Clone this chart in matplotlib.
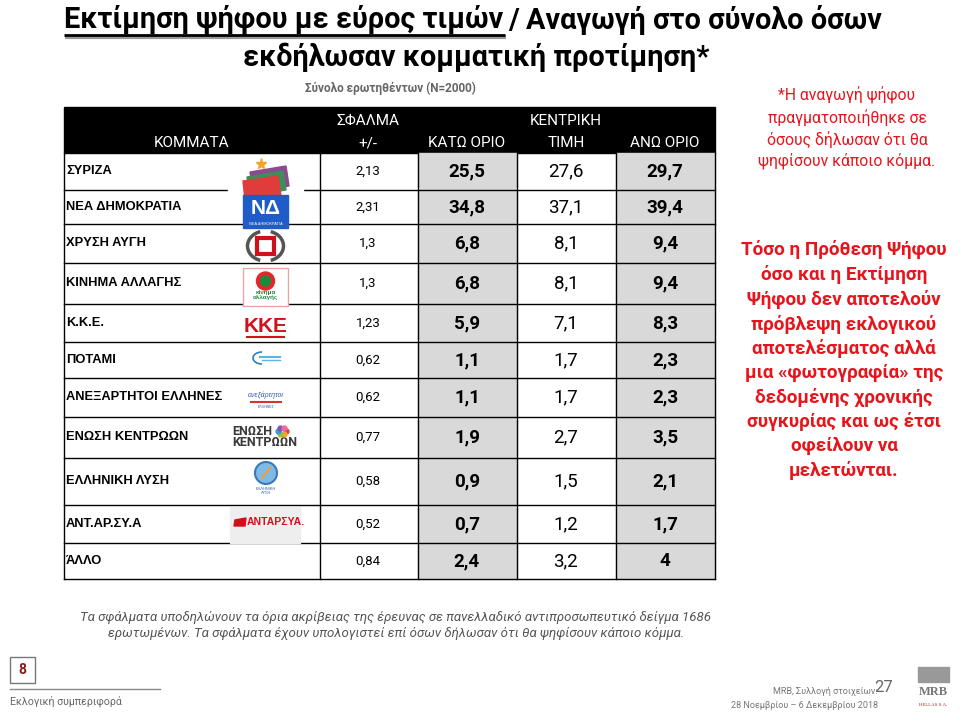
import numpy as np
import matplotlib
matplotlib.use("Agg")
import matplotlib.pyplot as plt
from matplotlib.patches import Rectangle, Polygon, Circle, Arc

# Table data
parties = ["ΣΥΡΙΖΑ", "ΝΕΑ ΔΗΜΟΚΡΑΤΙΑ", "ΧΡΥΣΗ ΑΥΓΗ", "ΚΙΝΗΜΑ ΑΛΛΑΓΗΣ", "Κ.Κ.Ε.",
           "ΠΟΤΑΜΙ", "ΑΝΕΞΑΡΤΗΤΟΙ ΕΛΛΗΝΕΣ", "ΕΝΩΣΗ ΚΕΝΤΡΩΩΝ", "ΕΛΛΗΝΙΚΗ ΛΥΣΗ",
           "ΑΝΤ.ΑΡ.ΣΥ.Α", "ΆΛΛΟ"]
errors = [2.13, 2.31, 1.3, 1.3, 1.23, 0.62, 0.62, 0.77, 0.58, 0.52, 0.84]
lower = [25.5, 34.8, 6.8, 6.8, 5.9, 1.1, 1.1, 1.9, 0.9, 0.7, 2.4]
central = [27.6, 37.1, 8.1, 8.1, 7.1, 1.7, 1.7, 2.7, 1.5, 1.2, 3.2]
upper = [29.7, 39.4, 9.4, 9.4, 8.3, 2.3, 2.3, 3.5, 2.1, 1.7, 4]

# layout (pixels)
col_edges = [64, 320, 418, 517, 616, 715]
row_edges = [153, 190, 224, 263, 304, 342, 378, 417, 458, 505, 543, 579]
head_top = 107

CAL = "Roboto"
ARL = "Liberation Sans"
RED = "#e8141b"

def num(v):
    return f"{v:g}".replace(".", ",")

fig = plt.figure(figsize=(9.6, 7.2), dpi=100)
ax = fig.add_axes([0, 0, 1, 1])
ax.set_xlim(0, 960)
ax.set_ylim(720, 0)
ax.axis("off")

# ---- title ----
TSZ = 20.8
t1 = ax.text(0, 20, "Εκτίμηση ψήφου με εύρος τιμών", fontsize=TSZ, fontweight="bold",
             family=CAL, ha="left", va="center", color="black")
t2 = ax.text(0, 20, "/ Αναγωγή στο σύνολο όσων", fontsize=TSZ, fontweight="bold",
             family=CAL, ha="left", va="center", color="black")
fig.canvas.draw()
w1 = t1.get_window_extent().width
w2 = t2.get_window_extent().width
x0 = 473 - (w1 + 4 + w2) / 2
t1.set_x(x0)
t2.set_x(x0 + w1 + 4)
ax.plot([x0 + 1, x0 + w1 + 2], [37, 37], color="#999999", lw=3, solid_capstyle="butt")
ax.plot([x0, x0 + w1 + 1], [35, 35], color="black", lw=2, solid_capstyle="butt")
ax.text(476, 57, "εκδήλωσαν κομματική προτίμηση*", fontsize=TSZ, fontweight="bold",
        family=CAL, ha="center", va="center", color="black")
ax.text(390, 88, "Σύνολο ερωτηθέντων (N=2000)", fontsize=8.5, fontweight="bold",
        family=CAL, ha="center", va="center", color="#666666")

# ---- table header ----
ax.add_patch(Rectangle((col_edges[0], head_top), col_edges[-1] - col_edges[0],
                       row_edges[0] - head_top, color="black", zorder=1))
hy1, hy2 = 121, 143
hkw = dict(fontsize=11, family=CAL, color="white", ha="center", va="center", zorder=3)
ax.text(192, hy2, "ΚΟΜΜΑΤΑ", **hkw)
ax.text(368, hy1, "ΣΦΑΛΜΑ", **hkw)
ax.text(368, hy2, "+/-", **hkw)
ax.text(467, hy2, "ΚΑΤΩ ΟΡΙΟ", **hkw)
ax.text(566, hy1, "ΚΕΝΤΡΙΚΗ", **hkw)
ax.text(566, hy2, "ΤΙΜΗ", **hkw)
ax.text(665, hy2, "ΑΝΩ ΟΡΙΟ", **hkw)

# ---- shaded columns ----
for c in (2, 4):
    ax.add_patch(Rectangle((col_edges[c], row_edges[0]), col_edges[c + 1] - col_edges[c],
                           row_edges[-1] - row_edges[0], color="#d9d9d9", zorder=1))

# grid
for y in row_edges[1:]:
    ax.plot([col_edges[0], col_edges[-1]], [y, y], color="black", lw=1, zorder=2)
for x in col_edges:
    ax.plot([x, x], [row_edges[0], row_edges[-1]], color="black", lw=1, zorder=2)

# ---- rows ----
for i, p in enumerate(parties):
    yc = (row_edges[i] + row_edges[i + 1]) / 2
    ax.text(66, yc, p, fontsize=9.3, fontweight="bold", family=ARL, ha="left", va="center", zorder=4)
    ax.text(368, yc, num(errors[i]), fontsize=9.5, family=CAL, ha="center", va="center", zorder=4)
    ax.text(467, yc, num(lower[i]), fontsize=13.5, fontweight="bold", family=CAL, ha="center", va="center", zorder=4)
    ax.text(566, yc, num(central[i]), fontsize=13.5, family=CAL, ha="center", va="center", zorder=4)
    ax.text(665, yc, num(upper[i]), fontsize=13.5, fontweight="bold", family=CAL, ha="center", va="center", zorder=4)

# ---- simplified party logos ----
Z = 5
# SYRIZA
ax.add_patch(Rectangle((228, 160), 75, 38, color="white", zorder=Z))
ax.add_patch(Polygon([[250, 172], [286, 166], [289, 186], [253, 192]], color="#8e4a8c", zorder=Z))
ax.add_patch(Polygon([[247, 177], [283, 171], [286, 190], [250, 196]], color="#3a8f5a", zorder=Z))
ax.add_patch(Polygon([[243, 181], [278, 176], [281, 196], [245, 200]], color="#e03c3c", zorder=Z))
ax.plot(261, 164, marker="*", color="#f5a623", ms=8, zorder=Z + 1)
# ND
ax.add_patch(Rectangle((243, 195), 45, 33, color="#1f5cc8", zorder=Z))
ax.text(265.5, 208, "ΝΔ", fontsize=15, fontweight="bold", family=ARL, color="white",
        ha="center", va="center", zorder=Z + 1)
ax.text(265.5, 224, "ΝΕΑ ΔΗΜΟΚΡΑΤΙΑ", fontsize=2.8, family=ARL, color="white",
        ha="center", va="center", zorder=Z + 1)
# Golden Dawn
ax.add_patch(Rectangle((243, 231), 45, 30, color="white", zorder=Z))
ax.add_patch(Arc((265.5, 246), 36, 30, theta1=110, theta2=250, color="#555555", lw=2.5, zorder=Z + 1))
ax.add_patch(Arc((265.5, 246), 36, 30, theta1=-70, theta2=70, color="#555555", lw=2.5, zorder=Z + 1))
ax.add_patch(Rectangle((257, 238), 17, 16, fill=False, ec="#d0111b", lw=3, zorder=Z + 1))
# KINAL
ax.add_patch(Rectangle((243, 268), 45, 38, fc="white", ec="#e9a5a5", lw=1, zorder=Z))
ax.add_patch(Circle((265.5, 281), 9, color="#e3262b", zorder=Z + 1))
ax.add_patch(Circle((265.5, 281), 5, color="#1c8a3c", zorder=Z + 2))
ax.text(265.5, 295, "κίνημα\nαλλαγής", fontsize=4.5, fontweight="bold", family=ARL,
        color="#1c8a3c", ha="center", va="center", linespacing=0.9, zorder=Z + 1)
# KKE
ax.add_patch(Rectangle((243, 308), 45, 32, color="white", zorder=Z))
ax.text(265.5, 326, "ΚΚΕ", fontsize=15, fontweight="bold", family=ARL, color="#d0111b",
        ha="center", va="center", zorder=Z + 1)
ax.plot([247, 284], [337, 337], color="#d0111b", lw=1.5, zorder=Z + 1)
# Potami
ax.add_patch(Arc((262, 358), 18, 12, theta1=90, theta2=270, color="#2c7fc1", lw=1.2, zorder=Z))
ax.plot([260, 280], [357, 357], color="#56b7e6", lw=1.5, zorder=Z)
ax.plot([262, 280], [360, 360], color="#56b7e6", lw=1, zorder=Z)
# ANEL
ax.text(266, 395, "ανεξάρτητοι", fontsize=5, style="italic", family=ARL, color="#2f5aa8",
        ha="center", va="center", zorder=Z)
ax.plot([251, 281], [402, 402], color="#d9342b", lw=1.5, zorder=Z)
ax.text(266, 407, "ΕΛΛΗΝΕΣ", fontsize=2.5, family=ARL, color="#2f5aa8",
        ha="center", va="center", zorder=Z)
# Enosi Kentroon
ax.text(232, 437, "ΕΝΩΣΗ\nΚΕΝΤΡΩΩΝ", fontsize=9, fontweight="bold", family=CAL,
        color="#3a3a3a", ha="left", va="center", linespacing=0.85, zorder=Z)
for ang, col in zip(range(0, 360, 60), ["#e53b3b", "#f3a52e", "#9cc43a", "#3c9ad6", "#8a4fb0", "#e86aa8"]):
    ax.plot(282 + 4 * np.cos(np.radians(ang)), 431 + 4 * np.sin(np.radians(ang)),
            marker="o", ms=3.5, color=col, zorder=Z)
# Elliniki Lysi
ax.add_patch(Circle((266, 473), 11, fc="#7fb9e6", ec="#3b78b8", lw=1.5, zorder=Z))
ax.plot([262, 270], [478, 468], color="#f0a030", lw=1.5, zorder=Z + 1)
ax.text(266, 491, "ΕΛΛΗΝΙΚΗ\nΛΥΣΗ", fontsize=2.8, family=ARL, color="#2f5aa8",
        ha="center", va="center", zorder=Z)
# ANTARSYA
ax.add_patch(Rectangle((230, 507), 70, 36, color="#eeeeee", zorder=Z))
ax.add_patch(Polygon([[235, 520], [246, 518], [245, 526], [234, 526]], color="#d0111b", zorder=Z + 1))
ax.text(247, 522, "ΑΝΤΑΡΣΥΑ.", fontsize=7.5, fontweight="bold", family=ARL, color="#d0111b",
        ha="left", va="center", zorder=Z + 1)

# ---- right hand notes ----
ax.text(847, 128, "*Η αναγωγή ψήφου\nπραγματοποιήθηκε σε\nόσους δήλωσαν ότι θα\nψηφίσουν κάποιο κόμμα.",
        fontsize=11.3, family=CAL, color=RED, ha="center", va="center", linespacing=1.35)
ax.text(844, 360,
        "Τόσο η Πρόθεση Ψήφου\nόσο και η Εκτίμηση\nΨήφου δεν αποτελούν\nπρόβλεψη εκλογικού\n"
        "αποτελέσματος αλλά\nμια «φωτογραφία» της\nδεδομένης χρονικής\nσυγκυρίας και ως έτσι\n"
        "οφείλουν να\nμελετώνται.",
        fontsize=13.6, fontweight="bold", family=CAL, color=RED, ha="center", va="center",
        linespacing=1.38)

# ---- footnote ----
ax.text(396, 626, "Τα σφάλματα υποδηλώνουν τα όρια ακρίβειας της έρευνας σε πανελλαδικό αντιπροσωπευτικό δείγμα 1686\n"
        "ερωτωμένων. Τα σφάλματα έχουν υπολογιστεί επί όσων δήλωσαν ότι θα ψηφίσουν κάποιο κόμμα.",
        fontsize=9.5, style="italic", family=CAL, color="#555555", ha="center", va="center",
        linespacing=1.3)

# ---- footer ----
ax.add_patch(Rectangle((10, 657), 25, 26, fill=False, ec="#777777", lw=1))
ax.text(22.5, 670, "8", fontsize=10, fontweight="bold", family=CAL, color="#8b1a1a",
        ha="center", va="center")
ax.plot([10, 160], [689, 689], color="#888888", lw=1)
ax.text(10, 701, "Εκλογική συμπεριφορά", fontsize=7.7, family=CAL, color="#666666",
        ha="left", va="center")
ax.text(893, 688, "27", fontsize=12, family=CAL, color="#666666", ha="right", va="center")
ax.text(877, 691, "MRB, Συλλογή στοιχείων:", fontsize=6.5, family=CAL, color="#777777",
        ha="right", va="center")
ax.text(878, 705, "28 Νοεμβρίου – 6 Δεκεμβρίου 2018", fontsize=6.5, family=CAL, color="#777777",
        ha="right", va="center")
ax.add_patch(Rectangle((918, 667), 31, 15, color="#999999"))
ax.text(933.5, 692, "MRB", fontsize=9, fontweight="bold", family="Liberation Serif", color="#777777",
        ha="center", va="center")
ax.text(933.5, 705, "HELLAS S.A.", fontsize=3.5, family="Liberation Serif", color="#b02020",
        ha="center", va="center")

fig.savefig("out.png", dpi=100)
